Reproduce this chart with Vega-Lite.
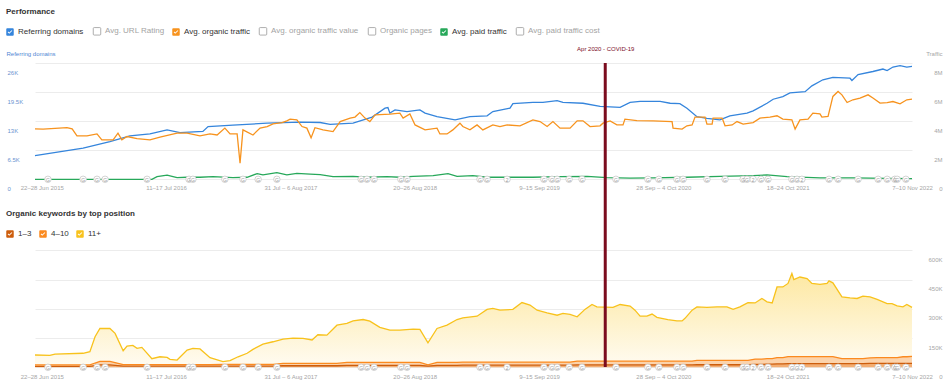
{
"$schema":"https://vega.github.io/schema/vega-lite/v6.json",
"width":922,"height":304,
"autosize":{"type":"none"},
"padding":{"left":6,"top":63,"right":23,"bottom":24},
"background":"#ffffff",
"config":{"font":"Liberation Sans","view":{"stroke":null},
 "axis":{"ticks":false,"domain":false,"tickSize":0,"labelOverlap":false,"labelFlush":false,"gridColor":"#ececec","labelFont":"Liberation Sans","titleFont":"Liberation Sans","titleFontWeight":"normal"},
 "legend":{"labelFont":"Liberation Sans","titleFont":"Liberation Sans"}},
"datasets":{
"rd":[{"d":"2015-06-01","v":5290},{"d":"2015-10-28","v":6950},{"d":"2016-01-19","v":8400},{"d":"2016-03-21","v":9700},{"d":"2016-05-22","v":10150},{"d":"2016-07-14","v":11050},{"d":"2016-08-23","v":10450},{"d":"2016-11-02","v":10700},{"d":"2016-11-18","v":11800},{"d":"2017-02-03","v":12100},{"d":"2017-05-20","v":12550},{"d":"2017-08-30","v":12800},{"d":"2017-10-31","v":12700},{"d":"2017-12-01","v":12300},{"d":"2018-02-10","v":12550},{"d":"2018-04-10","v":13900},{"d":"2018-05-20","v":15900},{"d":"2018-05-29","v":16050},{"d":"2018-06-04","v":14800},{"d":"2018-06-20","v":15500},{"d":"2018-07-27","v":15150},{"d":"2018-09-05","v":15500},{"d":"2018-09-21","v":14800},{"d":"2018-10-28","v":14000},{"d":"2018-12-23","v":13300},{"d":"2019-02-07","v":14000},{"d":"2019-04-01","v":14200},{"d":"2019-04-19","v":15150},{"d":"2019-06-11","v":15900},{"d":"2019-06-20","v":16900},{"d":"2019-08-21","v":17200},{"d":"2019-09-21","v":17200},{"d":"2019-11-04","v":17600},{"d":"2019-11-22","v":17200},{"d":"2020-01-23","v":17000},{"d":"2020-03-16","v":16300},{"d":"2020-05-17","v":16100},{"d":"2020-06-17","v":17200},{"d":"2020-07-18","v":17400},{"d":"2020-09-18","v":17400},{"d":"2020-10-19","v":17000},{"d":"2020-11-18","v":16900},{"d":"2020-12-10","v":15900},{"d":"2021-01-10","v":14000},{"d":"2021-02-10","v":13600},{"d":"2021-03-22","v":13300},{"d":"2021-04-22","v":14200},{"d":"2021-06-14","v":14800},{"d":"2021-07-03","v":15300},{"d":"2021-08-15","v":17000},{"d":"2021-09-03","v":17900},{"d":"2021-10-03","v":18500},{"d":"2021-10-25","v":19300},{"d":"2021-12-11","v":19600},{"d":"2022-01-01","v":20900},{"d":"2022-02-04","v":22250},{"d":"2022-03-07","v":22800},{"d":"2022-04-29","v":22600},{"d":"2022-05-05","v":22100},{"d":"2022-05-24","v":23400},{"d":"2022-07-09","v":24100},{"d":"2022-08-09","v":24650},{"d":"2022-08-22","v":24300},{"d":"2022-09-09","v":25100},{"d":"2022-10-01","v":25400},{"d":"2022-10-22","v":25100},{"d":"2022-11-07","v":25250}],
"ot":[{"d":"2015-06-01","v":3470000},{"d":"2015-06-26","v":3450000},{"d":"2015-09-08","v":3560000},{"d":"2015-09-24","v":3470000},{"d":"2015-10-09","v":2990000},{"d":"2015-11-09","v":2990000},{"d":"2015-12-10","v":3120000},{"d":"2015-12-25","v":2710000},{"d":"2016-01-29","v":2710000},{"d":"2016-02-13","v":3170000},{"d":"2016-02-25","v":2710000},{"d":"2016-03-12","v":2940000},{"d":"2016-04-12","v":2800000},{"d":"2016-05-22","v":2710000},{"d":"2016-06-22","v":2900000},{"d":"2016-08-14","v":3170000},{"d":"2016-09-14","v":3170000},{"d":"2016-10-24","v":2990000},{"d":"2016-11-24","v":3120000},{"d":"2016-12-16","v":3050000},{"d":"2017-01-09","v":3520000},{"d":"2017-01-25","v":3120000},{"d":"2017-02-16","v":3120000},{"d":"2017-02-25","v":1100000},{"d":"2017-03-06","v":3400000},{"d":"2017-04-06","v":3050000},{"d":"2017-04-28","v":3520000},{"d":"2017-05-20","v":3630000},{"d":"2017-06-07","v":3810000},{"d":"2017-07-05","v":3900000},{"d":"2017-07-20","v":4020000},{"d":"2017-07-30","v":4140000},{"d":"2017-08-20","v":4090000},{"d":"2017-09-05","v":3630000},{"d":"2017-09-20","v":3520000},{"d":"2017-10-03","v":2850000},{"d":"2017-10-15","v":3550000},{"d":"2017-11-09","v":3400000},{"d":"2017-12-10","v":3280000},{"d":"2018-01-01","v":3970000},{"d":"2018-02-01","v":4210000},{"d":"2018-02-16","v":4280000},{"d":"2018-03-03","v":4590000},{"d":"2018-03-19","v":4210000},{"d":"2018-04-03","v":3970000},{"d":"2018-04-19","v":4430000},{"d":"2018-06-04","v":4480000},{"d":"2018-07-05","v":4550000},{"d":"2018-07-15","v":4210000},{"d":"2018-08-05","v":4500000},{"d":"2018-08-21","v":3740000},{"d":"2018-09-21","v":3400000},{"d":"2018-10-28","v":3520000},{"d":"2018-11-06","v":3120000},{"d":"2018-11-28","v":3120000},{"d":"2018-12-16","v":3400000},{"d":"2019-01-07","v":3860000},{"d":"2019-01-16","v":3630000},{"d":"2019-02-07","v":3400000},{"d":"2019-03-01","v":3740000},{"d":"2019-03-19","v":3400000},{"d":"2019-04-19","v":3740000},{"d":"2019-05-11","v":3630000},{"d":"2019-06-02","v":3740000},{"d":"2019-07-12","v":3680000},{"d":"2019-08-21","v":4090000},{"d":"2019-09-12","v":3970000},{"d":"2019-10-04","v":3630000},{"d":"2019-10-22","v":3970000},{"d":"2019-11-13","v":3520000},{"d":"2019-12-14","v":3520000},{"d":"2020-01-05","v":4020000},{"d":"2020-01-23","v":4020000},{"d":"2020-02-14","v":3630000},{"d":"2020-03-16","v":3680000},{"d":"2020-03-25","v":3860000},{"d":"2020-04-16","v":4020000},{"d":"2020-05-07","v":3740000},{"d":"2020-05-26","v":3740000},{"d":"2020-06-01","v":4140000},{"d":"2020-07-08","v":4040000},{"d":"2020-08-27","v":4020000},{"d":"2020-10-25","v":3970000},{"d":"2020-10-28","v":3520000},{"d":"2020-11-25","v":3450000},{"d":"2020-12-10","v":3680000},{"d":"2020-12-26","v":3740000},{"d":"2021-01-04","v":4280000},{"d":"2021-02-04","v":4280000},{"d":"2021-02-10","v":3790000},{"d":"2021-02-26","v":3790000},{"d":"2021-03-01","v":4210000},{"d":"2021-03-29","v":4210000},{"d":"2021-04-07","v":3680000},{"d":"2021-04-29","v":3740000},{"d":"2021-05-14","v":3970000},{"d":"2021-06-02","v":3790000},{"d":"2021-07-03","v":3900000},{"d":"2021-07-24","v":4210000},{"d":"2021-08-24","v":4280000},{"d":"2021-09-15","v":4370000},{"d":"2021-10-03","v":4140000},{"d":"2021-10-31","v":4090000},{"d":"2021-11-10","v":3450000},{"d":"2021-11-25","v":4090000},{"d":"2021-12-20","v":4140000},{"d":"2022-01-04","v":4550000},{"d":"2022-01-26","v":4500000},{"d":"2022-02-01","v":4280000},{"d":"2022-02-20","v":4320000},{"d":"2022-03-07","v":5700000},{"d":"2022-03-23","v":6040000},{"d":"2022-04-04","v":5810000},{"d":"2022-04-20","v":5280000},{"d":"2022-05-08","v":5470000},{"d":"2022-05-30","v":5590000},{"d":"2022-06-24","v":5810000},{"d":"2022-07-09","v":5590000},{"d":"2022-07-31","v":5240000},{"d":"2022-08-22","v":5280000},{"d":"2022-09-09","v":5350000},{"d":"2022-10-01","v":5190000},{"d":"2022-10-22","v":5470000},{"d":"2022-11-07","v":5520000}],
"pt":[{"d":"2015-06-01","v":0},{"d":"2016-05-28","v":0},{"d":"2016-06-13","v":180000},{"d":"2016-07-14","v":280000},{"d":"2016-08-14","v":110000},{"d":"2016-09-14","v":140000},{"d":"2016-10-24","v":140000},{"d":"2016-12-03","v":180000},{"d":"2017-02-03","v":110000},{"d":"2017-03-19","v":140000},{"d":"2017-04-19","v":390000},{"d":"2017-05-07","v":300000},{"d":"2017-06-19","v":460000},{"d":"2017-07-20","v":300000},{"d":"2017-08-20","v":410000},{"d":"2017-09-30","v":360000},{"d":"2017-10-31","v":320000},{"d":"2017-12-10","v":180000},{"d":"2018-02-10","v":200000},{"d":"2018-03-25","v":140000},{"d":"2018-05-26","v":180000},{"d":"2018-07-05","v":140000},{"d":"2018-08-15","v":200000},{"d":"2018-10-16","v":250000},{"d":"2018-12-01","v":390000},{"d":"2018-12-29","v":200000},{"d":"2019-02-16","v":250000},{"d":"2019-04-01","v":140000},{"d":"2019-06-02","v":140000},{"d":"2019-08-21","v":140000},{"d":"2019-11-13","v":180000},{"d":"2020-02-05","v":200000},{"d":"2020-04-06","v":110000},{"d":"2020-06-17","v":80000},{"d":"2020-08-27","v":100000},{"d":"2020-12-10","v":140000},{"d":"2021-03-22","v":200000},{"d":"2021-07-03","v":250000},{"d":"2021-08-15","v":300000},{"d":"2021-10-16","v":180000},{"d":"2022-01-26","v":100000},{"d":"2022-05-08","v":100000},{"d":"2022-08-22","v":60000},{"d":"2022-11-07","v":50000}],
"kw":[{"d":"2015-06-01","top3":5000,"top10":7000,"rest":51000},{"d":"2015-07-17","top3":5000,"top10":7000,"rest":49000},{"d":"2015-08-02","top3":5000,"top10":7000,"rest":56000},{"d":"2015-10-28","top3":5000,"top10":7000,"rest":60000},{"d":"2015-11-18","top3":5000,"top10":7000,"rest":68000},{"d":"2015-12-04","top3":9000,"top10":13000,"rest":135000},{"d":"2015-12-19","top3":12000,"top10":18000,"rest":169000},{"d":"2016-01-19","top3":12000,"top10":18000,"rest":169000},{"d":"2016-02-04","top3":10000,"top10":14000,"rest":150000},{"d":"2016-02-29","top3":6000,"top10":8000,"rest":71000},{"d":"2016-03-12","top3":6000,"top10":8000,"rest":95000},{"d":"2016-03-30","top3":6000,"top10":8000,"rest":98000},{"d":"2016-04-12","top3":6000,"top10":8000,"rest":83000},{"d":"2016-04-27","top3":6000,"top10":8000,"rest":88000},{"d":"2016-05-28","top3":6000,"top10":8000,"rest":30000},{"d":"2016-06-22","top3":6000,"top10":8000,"rest":40000},{"d":"2016-07-14","top3":6000,"top10":8000,"rest":37000},{"d":"2016-07-23","top3":6000,"top10":8000,"rest":27000},{"d":"2016-08-14","top3":6000,"top10":8000,"rest":23000},{"d":"2016-09-14","top3":6000,"top10":8000,"rest":74000},{"d":"2016-10-02","top3":6000,"top10":8000,"rest":83000},{"d":"2016-10-24","top3":6000,"top10":8000,"rest":80000},{"d":"2016-11-24","top3":6000,"top10":8000,"rest":35000},{"d":"2017-01-03","top3":6000,"top10":9000,"rest":14000},{"d":"2017-01-25","top3":6000,"top10":9000,"rest":19000},{"d":"2017-02-19","top3":6000,"top10":9000,"rest":39000},{"d":"2017-03-19","top3":6000,"top10":9000,"rest":57000},{"d":"2017-04-06","top3":6000,"top10":9000,"rest":77000},{"d":"2017-05-07","top3":6000,"top10":9000,"rest":104000},{"d":"2017-06-07","top3":6000,"top10":9000,"rest":116000},{"d":"2017-07-08","top3":8000,"top10":12000,"rest":125000},{"d":"2017-08-08","top3":8000,"top10":12000,"rest":130000},{"d":"2017-09-08","top3":8000,"top10":12000,"rest":128000},{"d":"2017-10-06","top3":8000,"top10":12000,"rest":120000},{"d":"2017-10-24","top3":8000,"top10":12000,"rest":147000},{"d":"2017-11-21","top3":8000,"top10":12000,"rest":145000},{"d":"2017-12-22","top3":8000,"top10":12000,"rest":196000},{"d":"2018-01-22","top3":10000,"top10":15000,"rest":200000},{"d":"2018-02-10","top3":10000,"top10":15000,"rest":213000},{"d":"2018-03-13","top3":10000,"top10":15000,"rest":220000},{"d":"2018-04-03","top3":10000,"top10":15000,"rest":212000},{"d":"2018-05-04","top3":10000,"top10":15000,"rest":180000},{"d":"2018-06-04","top3":10000,"top10":15000,"rest":166000},{"d":"2018-07-05","top3":10000,"top10":15000,"rest":166000},{"d":"2018-08-15","top3":10000,"top10":15000,"rest":171000},{"d":"2018-09-05","top3":10000,"top10":15000,"rest":169000},{"d":"2018-09-30","top3":6000,"top10":7000,"rest":113000},{"d":"2018-10-28","top3":10000,"top10":15000,"rest":174000},{"d":"2018-11-28","top3":10000,"top10":15000,"rest":191000},{"d":"2018-12-29","top3":10000,"top10":15000,"rest":220000},{"d":"2019-01-16","top3":11000,"top10":16000,"rest":227000},{"d":"2019-03-01","top3":11000,"top10":16000,"rest":235000},{"d":"2019-04-01","top3":11000,"top10":16000,"rest":270000},{"d":"2019-04-19","top3":11000,"top10":16000,"rest":275000},{"d":"2019-05-11","top3":11000,"top10":16000,"rest":266000},{"d":"2019-06-20","top3":11000,"top10":16000,"rest":270000},{"d":"2019-07-18","top3":11000,"top10":16000,"rest":305000},{"d":"2019-08-12","top3":11000,"top10":16000,"rest":292000},{"d":"2019-09-03","top3":11000,"top10":16000,"rest":266000},{"d":"2019-10-04","top3":11000,"top10":16000,"rest":252000},{"d":"2019-11-04","top3":11000,"top10":16000,"rest":240000},{"d":"2019-11-22","top3":11000,"top10":16000,"rest":249000},{"d":"2019-12-14","top3":11000,"top10":16000,"rest":244000},{"d":"2020-01-05","top3":12000,"top10":20000,"rest":227000},{"d":"2020-01-29","top3":12000,"top10":20000,"rest":265000},{"d":"2020-02-20","top3":12000,"top10":20000,"rest":290000},{"d":"2020-03-06","top3":12000,"top10":20000,"rest":278000},{"d":"2020-04-25","top3":12000,"top10":20000,"rest":275000},{"d":"2020-05-17","top3":12000,"top10":20000,"rest":290000},{"d":"2020-06-17","top3":12000,"top10":20000,"rest":282000},{"d":"2020-07-02","top3":12000,"top10":20000,"rest":261000},{"d":"2020-07-18","top3":12000,"top10":20000,"rest":230000},{"d":"2020-08-08","top3":12000,"top10":20000,"rest":230000},{"d":"2020-08-24","top3":12000,"top10":20000,"rest":241000},{"d":"2020-09-08","top3":12000,"top10":20000,"rest":224000},{"d":"2020-10-12","top3":12000,"top10":20000,"rest":213000},{"d":"2020-11-09","top3":12000,"top10":20000,"rest":206000},{"d":"2020-11-25","top3":12000,"top10":20000,"rest":206000},{"d":"2020-12-04","top3":12000,"top10":20000,"rest":219000},{"d":"2020-12-26","top3":12000,"top10":20000,"rest":261000},{"d":"2021-01-10","top3":13000,"top10":23000,"rest":274000},{"d":"2021-02-10","top3":13000,"top10":23000,"rest":271000},{"d":"2021-03-13","top3":13000,"top10":23000,"rest":274000},{"d":"2021-04-13","top3":13000,"top10":23000,"rest":274000},{"d":"2021-05-02","top3":13000,"top10":23000,"rest":261000},{"d":"2021-05-23","top3":13000,"top10":23000,"rest":274000},{"d":"2021-06-17","top3":13000,"top10":23000,"rest":296000},{"d":"2021-07-09","top3":15000,"top10":27000,"rest":288000},{"d":"2021-07-30","top3":15000,"top10":27000,"rest":311000},{"d":"2021-08-15","top3":16000,"top10":28000,"rest":292000},{"d":"2021-08-31","top3":16000,"top10":28000,"rest":286000},{"d":"2021-09-15","top3":18000,"top10":32000,"rest":362000},{"d":"2021-10-03","top3":18000,"top10":32000,"rest":362000},{"d":"2021-10-19","top3":19000,"top10":36000,"rest":375000},{"d":"2021-10-31","top3":19000,"top10":36000,"rest":426000},{"d":"2021-11-06","top3":19000,"top10":36000,"rest":395000},{"d":"2021-11-25","top3":19000,"top10":36000,"rest":408000},{"d":"2021-12-17","top3":19000,"top10":36000,"rest":400000},{"d":"2022-01-01","top3":19000,"top10":36000,"rest":375000},{"d":"2022-01-26","top3":19000,"top10":36000,"rest":370000},{"d":"2022-02-17","top3":19000,"top10":36000,"rest":375000},{"d":"2022-02-23","top3":19000,"top10":36000,"rest":388000},{"d":"2022-03-07","top3":19000,"top10":36000,"rest":378000},{"d":"2022-04-04","top3":19000,"top10":26000,"rest":316000},{"d":"2022-04-29","top3":19000,"top10":26000,"rest":311000},{"d":"2022-05-21","top3":19000,"top10":26000,"rest":308000},{"d":"2022-06-08","top3":19000,"top10":26000,"rest":320000},{"d":"2022-06-30","top3":20000,"top10":28000,"rest":313000},{"d":"2022-07-22","top3":20000,"top10":30000,"rest":298000},{"d":"2022-08-22","top3":20000,"top10":30000,"rest":277000},{"d":"2022-09-06","top3":20000,"top10":30000,"rest":277000},{"d":"2022-09-22","top3":20000,"top10":30000,"rest":265000},{"d":"2022-10-10","top3":20000,"top10":34000,"rest":256000},{"d":"2022-10-22","top3":20000,"top10":34000,"rest":268000},{"d":"2022-11-07","top3":20000,"top10":36000,"rest":251000}],
"upd":[{"d":"2015-07-11","t":"G"},{"d":"2015-10-28","t":"G"},{"d":"2015-12-10","t":"G"},{"d":"2016-01-04","t":"G"},{"d":"2016-05-13","t":"G"},{"d":"2016-09-20","t":"G"},{"d":"2016-10-02","t":"G"},{"d":"2017-01-09","t":"G"},{"d":"2017-03-06","t":"G"},{"d":"2017-04-22","t":"G"},{"d":"2017-06-19","t":"G"},{"d":"2018-03-07","t":"G"},{"d":"2018-03-25","t":"G"},{"d":"2018-04-16","t":"G"},{"d":"2018-07-08","t":"G"},{"d":"2018-07-27","t":"G"},{"d":"2019-03-10","t":"G"},{"d":"2019-04-01","t":"G"},{"d":"2019-06-02","t":"2"},{"d":"2019-09-24","t":"G"},{"d":"2019-10-19","t":"G"},{"d":"2019-11-04","t":"G"},{"d":"2019-12-11","t":"G"},{"d":"2020-01-20","t":"G"},{"d":"2020-05-04","t":"G"},{"d":"2020-08-11","t":"G"},{"d":"2020-09-14","t":"G"},{"d":"2020-11-09","t":"G"},{"d":"2020-11-28","t":"G"},{"d":"2021-02-10","t":"G"},{"d":"2021-04-07","t":"G"},{"d":"2021-06-02","t":"G"},{"d":"2021-06-14","t":"G"},{"d":"2021-07-03","t":"2"},{"d":"2021-07-27","t":"G"},{"d":"2021-08-18","t":"G"},{"d":"2021-10-31","t":"G"},{"d":"2021-11-16","t":"G"},{"d":"2021-12-01","t":"2"},{"d":"2022-02-23","t":"G"},{"d":"2022-03-23","t":"G"},{"d":"2022-05-24","t":"G"},{"d":"2022-07-25","t":"G"},{"d":"2022-08-22","t":"G"},{"d":"2022-09-15","t":"G"},{"d":"2022-09-22","t":"G"},{"d":"2022-10-19","t":"G"}],
"ev":[{"d":"2020-04-01","e":"Apr 2020 - COVID-19"}]
},
"layer":[
 {"data":{"name":"rd"},"mark":{"type":"line","strokeWidth":1.3},
  "encoding":{
   "x":{"field":"d","type":"temporal","scale":{"domain":[{"year":2015,"month":6,"date":1},{"year":2022,"month":11,"date":7}],"range":[29,906],"nice":false},
    "axis":{"orient":"top","offset":-116.3,"values":[{"year":2015,"month":6,"date":22},{"year":2016,"month":7,"date":11},{"year":2017,"month":7,"date":31},{"year":2018,"month":8,"date":20},{"year":2019,"month":9,"date":9},{"year":2020,"month":9,"date":28},{"year":2021,"month":10,"date":18},{"year":2022,"month":11,"date":7}],
     "labelExpr":"year(datum.value)==2015?'22–28 Jun 2015':year(datum.value)==2016?'11–17 Jul 2016':year(datum.value)==2017?'31 Jul – 6 Aug 2017':year(datum.value)==2018?'20–26 Aug 2018':year(datum.value)==2019?'9–15 Sep 2019':year(datum.value)==2020?'28 Sep – 4 Oct 2020':year(datum.value)==2021?'18–24 Oct 2021':'7–10 Nov 2022'",
     "labelFontSize":6,"labelColor":"#a6a6a6","labelBaseline":"top","labelPadding":-5,"grid":false,"title":null}},
   "y":{"field":"v","type":"quantitative","scale":{"domain":[0,26000],"range":[116.3,0],"nice":false},
    "axis":{"orient":"left","values":[0,6500,13000,19500,26000],"labelExpr":"datum.value==0?'0':format(datum.value/1000,'~g')+'K'","labelAlign":"left","labelBaseline":"middle","labelPadding":-1,"labelOffset":9,"labelFontSize":6,"labelColor":"#6b93cf","grid":true,"gridColor":"#ececec","title":"Referring domains","titleAngle":0,"titleAlign":"left","titleBaseline":"middle","titleX":0,"titleY":-10,"titleFontSize":6,"titleColor":"#4f86d3"}},
   "color":{"datum":"Referring domains","type":"nominal",
    "scale":{"domain":["Referring domains","Avg. URL Rating","Avg. organic traffic","Avg. organic traffic value","Organic pages","Avg. paid traffic","Avg. paid traffic cost"],"range":["#3585dc","#999999","#f7931e","#999999","#999999","#27a85a","#999999"]},
    "legend":{"orient":"none","legendX":0,"legendY":-55,"direction":"horizontal","columns":7,"title":"Performance","titleFontSize":8,"titleFontWeight":"bold","titleColor":"#333333","titlePadding":11,"titleAnchor":"start","labelFontSize":8,"labelOffset":4,"columnPadding":7,"symbolSize":56,"padding":0,"labelLimit":300,
     "encode":{
      "symbols":{"update":{
       "shape":{"signal":"indexof(['Referring domains','Avg. organic traffic','Avg. paid traffic'], datum.value) >= 0 ? 'M-1,-0.75Q-1,-1,-0.75,-1L0.75,-1Q1,-1,1,-0.75L1,0.75Q1,1,0.75,1L-0.75,1Q-1,1,-1,0.75ZM-0.62,0.05L-0.2,0.5L0.62,-0.32L0.45,-0.5L-0.2,0.15L-0.45,-0.12Z' : 'M-1,-0.75Q-1,-1,-0.75,-1L0.75,-1Q1,-1,1,-0.75L1,0.75Q1,1,0.75,1L-0.75,1Q-1,1,-1,0.75Z'"},
       "fill":{"signal":"datum.value=='Referring domains'?'#3585dc':datum.value=='Avg. organic traffic'?'#f7931e':datum.value=='Avg. paid traffic'?'#27a85a':'#ffffff'"},
       "stroke":{"signal":"datum.value=='Referring domains'?'#3585dc':datum.value=='Avg. organic traffic'?'#f7931e':datum.value=='Avg. paid traffic'?'#27a85a':'#c9c9c9'"},
       "strokeWidth":{"signal":"indexof(['Referring domains','Avg. organic traffic','Avg. paid traffic'], datum.value) >= 0 ? 0 : 0.8"},
       "opacity":{"value":1},"fillOpacity":{"value":1},"strokeOpacity":{"value":1}}},
      "labels":{"update":{"fill":{"signal":"indexof(['Referring domains','Avg. organic traffic','Avg. paid traffic'], datum.value) >= 0 ? '#333333' : '#a3a3a3'"}}}}}}
  }},
 {"data":{"name":"ot"},"mark":{"type":"line","strokeWidth":1.3,"color":"#f7931e"},
  "encoding":{
   "x":{"field":"d","type":"temporal","scale":{"domain":[{"year":2015,"month":6,"date":1},{"year":2022,"month":11,"date":7}],"range":[29,906],"nice":false},"axis":null},
   "y":{"field":"v","type":"quantitative","scale":{"domain":[0,8000000],"range":[116.3,0],"nice":false},
    "axis":{"orient":"left","values":[0,2000000,4000000,6000000,8000000],"labelExpr":"datum.value==0?'0':(datum.value/1000000)+'M'","labelAlign":"right","labelBaseline":"middle","labelPadding":-936,"labelOffset":9,"labelFontSize":6,"labelColor":"#a6a6a6","grid":false,"title":"Traffic","titleAngle":0,"titleAlign":"right","titleBaseline":"middle","titleX":936,"titleY":-10,"titleFontSize":6,"titleColor":"#a6a6a6"}}}},
 {"data":{"name":"pt"},"mark":{"type":"line","strokeWidth":1.3,"color":"#27a85a"},
  "encoding":{
   "x":{"field":"d","type":"temporal","scale":{"domain":[{"year":2015,"month":6,"date":1},{"year":2022,"month":11,"date":7}],"range":[29,906],"nice":false},"axis":null},
   "y":{"field":"v","type":"quantitative","scale":{"domain":[0,8000000],"range":[116.3,0],"nice":false},"axis":null}}},
 {"data":{"name":"upd"},"mark":{"type":"point","shape":"circle","filled":true,"fill":"#ffffff","stroke":"#c8c8c8","strokeWidth":0.8,"size":42,"opacity":1},
  "encoding":{
   "x":{"field":"d","type":"temporal","scale":{"domain":[{"year":2015,"month":6,"date":1},{"year":2022,"month":11,"date":7}],"range":[29,906],"nice":false},"axis":null},
   "y":{"datum":0,"type":"quantitative","scale":{"domain":[0,8000000],"range":[116.3,0],"nice":false},"axis":null}}},
 {"data":{"name":"upd"},"mark":{"type":"text","fontSize":5,"color":"#9a9a9a","baseline":"middle","align":"center","dy":0.5},
  "encoding":{
   "x":{"field":"d","type":"temporal","scale":{"domain":[{"year":2015,"month":6,"date":1},{"year":2022,"month":11,"date":7}],"range":[29,906],"nice":false},"axis":null},
   "y":{"datum":0,"type":"quantitative","scale":{"domain":[0,8000000],"range":[116.3,0],"nice":false},"axis":null},
   "text":{"field":"t"}}},
 {"data":{"name":"kw"},
  "transform":[{"fold":["top3","top10","rest"],"as":["s","v"]},{"stack":"v","groupby":["d"],"sort":[{"field":"s","order":"descending"}],"as":["v0","v1"]},{"filter":"datum.s=='rest'"}],
  "mark":{"type":"area","color":{"gradient":"linear","x1":0,"y1":0,"x2":0,"y2":1,"stops":[{"offset":0,"color":"#fde8a2"},{"offset":1,"color":"#fffbf0"}]}},
  "encoding":{
   "x":{"field":"d","type":"temporal","scale":{"domain":[{"year":2015,"month":6,"date":1},{"year":2022,"month":11,"date":7}],"range":[29,906],"nice":false},
    "axis":{"orient":"top","offset":-304.3,"values":[{"year":2015,"month":6,"date":22},{"year":2016,"month":7,"date":11},{"year":2017,"month":7,"date":31},{"year":2018,"month":8,"date":20},{"year":2019,"month":9,"date":9},{"year":2020,"month":9,"date":28},{"year":2021,"month":10,"date":18},{"year":2022,"month":11,"date":7}],
     "labelExpr":"year(datum.value)==2015?'22–28 Jun 2015':year(datum.value)==2016?'11–17 Jul 2016':year(datum.value)==2017?'31 Jul – 6 Aug 2017':year(datum.value)==2018?'20–26 Aug 2018':year(datum.value)==2019?'9–15 Sep 2019':year(datum.value)==2020?'28 Sep – 4 Oct 2020':year(datum.value)==2021?'18–24 Oct 2021':'7–10 Nov 2022'",
     "labelFontSize":6,"labelColor":"#a6a6a6","labelBaseline":"top","labelPadding":-6,"grid":false,"title":null}},
   "y":{"field":"v1","type":"quantitative","scale":{"domain":[0,600000],"range":[304.3,187.3],"nice":false},
    "axis":{"orient":"left","values":[0,150000,300000,450000,600000,858000],"labelExpr":"datum.value>600000?'':datum.value==0?'0':(datum.value/1000)+'K'","labelAlign":"right","labelBaseline":"middle","labelPadding":-936,"labelOffset":9,"labelFontSize":6,"labelColor":"#a6a6a6","grid":true,"gridColor":"#ececec","title":null}},
   "y2":{"field":"v0"}}},
 {"data":{"name":"kw"},
  "transform":[{"fold":["top3","top10","rest"],"as":["s","v"]},{"stack":"v","groupby":["d"],"sort":[{"field":"s","order":"descending"}],"as":["v0","v1"]},{"filter":"datum.s=='top10'"}],
  "mark":{"type":"area","color":"#fcd3ab"},
  "encoding":{
   "x":{"field":"d","type":"temporal","scale":{"domain":[{"year":2015,"month":6,"date":1},{"year":2022,"month":11,"date":7}],"range":[29,906],"nice":false},"axis":null},
   "y":{"field":"v1","type":"quantitative","scale":{"domain":[0,600000],"range":[304.3,187.3],"nice":false},"axis":null},
   "y2":{"field":"v0"}}},
 {"data":{"name":"kw"},
  "transform":[{"fold":["top3","top10","rest"],"as":["s","v"]},{"stack":"v","groupby":["d"],"sort":[{"field":"s","order":"descending"}],"as":["v0","v1"]},{"filter":"datum.s=='top3'"}],
  "mark":{"type":"area","color":"#f3ae73"},
  "encoding":{
   "x":{"field":"d","type":"temporal","scale":{"domain":[{"year":2015,"month":6,"date":1},{"year":2022,"month":11,"date":7}],"range":[29,906],"nice":false},"axis":null},
   "y":{"field":"v1","type":"quantitative","scale":{"domain":[0,600000],"range":[304.3,187.3],"nice":false},"axis":null},
   "y2":{"field":"v0"}}},
 {"data":{"name":"kw"},
  "transform":[{"fold":["top3","top10","rest"],"as":["s","v"]},{"stack":"v","groupby":["d"],"sort":[{"field":"s","order":"descending"}],"as":["v0","v1"]}],
  "mark":{"type":"line","strokeWidth":1.3},
  "encoding":{
   "x":{"field":"d","type":"temporal","scale":{"domain":[{"year":2015,"month":6,"date":1},{"year":2022,"month":11,"date":7}],"range":[29,906],"nice":false},"axis":null},
   "y":{"field":"v1","type":"quantitative","scale":{"domain":[0,600000],"range":[304.3,187.3],"nice":false},"axis":null},
   "color":{"field":"s","type":"nominal","scale":{"domain":["top3","top10","rest"],"range":["#cd5d0c","#fb8a1f","#f8c21c"]},
    "legend":{"orient":"none","legendX":0,"legendY":147,"direction":"horizontal","columns":3,"title":"Organic keywords by top position","titleFontSize":8,"titleFontWeight":"bold","titleColor":"#333333","titlePadding":12,"titleAnchor":"start","labelFontSize":8,"labelOffset":4,"columnPadding":7,"symbolSize":56,"padding":0,"labelColor":"#333333",
     "labelExpr":"datum.value=='top3'?'1–3':datum.value=='top10'?'4–10':'11+'",
     "encode":{"symbols":{"update":{
      "shape":{"value":"M-1,-0.75Q-1,-1,-0.75,-1L0.75,-1Q1,-1,1,-0.75L1,0.75Q1,1,0.75,1L-0.75,1Q-1,1,-1,0.75ZM-0.62,0.05L-0.2,0.5L0.62,-0.32L0.45,-0.5L-0.2,0.15L-0.45,-0.12Z"},
      "fill":{"signal":"datum.value=='top3'?'#cd5d0c':datum.value=='top10'?'#fb8a1f':'#f8c21c'"},
      "strokeWidth":{"value":0},"opacity":{"value":1},"fillOpacity":{"value":1}}}}}}}},
 {"data":{"name":"upd"},"mark":{"type":"point","shape":"circle","filled":true,"fill":"#ffffff","stroke":"#c8c8c8","strokeWidth":0.8,"size":42,"opacity":1},
  "encoding":{
   "x":{"field":"d","type":"temporal","scale":{"domain":[{"year":2015,"month":6,"date":1},{"year":2022,"month":11,"date":7}],"range":[29,906],"nice":false},"axis":null},
   "y":{"datum":0,"type":"quantitative","scale":{"domain":[0,600000],"range":[304.3,187.3],"nice":false},"axis":null}}},
 {"data":{"name":"upd"},"mark":{"type":"text","fontSize":5,"color":"#9a9a9a","baseline":"middle","align":"center","dy":0.5},
  "encoding":{
   "x":{"field":"d","type":"temporal","scale":{"domain":[{"year":2015,"month":6,"date":1},{"year":2022,"month":11,"date":7}],"range":[29,906],"nice":false},"axis":null},
   "y":{"datum":0,"type":"quantitative","scale":{"domain":[0,600000],"range":[304.3,187.3],"nice":false},"axis":null},
   "text":{"field":"t"}}},
 {"data":{"name":"ev"},
  "mark":{"type":"rule","color":"#7b0c1e","strokeWidth":3},
  "encoding":{
   "x":{"field":"d","type":"temporal","scale":{"domain":[{"year":2015,"month":6,"date":1},{"year":2022,"month":11,"date":7}],"range":[29,906],"nice":false},
    "axis":{"orient":"top","values":[{"year":2020,"month":4,"date":1}],"labelExpr":"'Apr 2020 - COVID-19'","labelFontSize":6,"labelColor":"#7b0c1e","labelPadding":12,"grid":false,"title":null}}}}
],
"resolve":{"scale":{"x":"independent","y":"independent","color":"independent"}}
}
